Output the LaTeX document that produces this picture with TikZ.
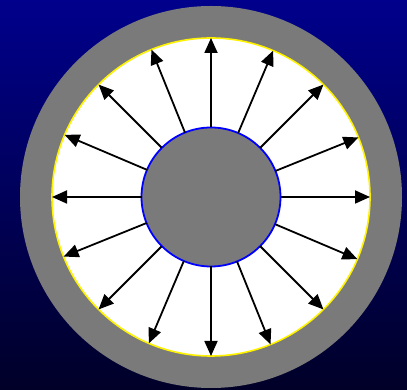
\documentclass[tikz,border=0pt]{standalone}
\usepackage{xcolor}
\usetikzlibrary{arrows.meta}
\usetikzlibrary{math}
\definecolor{bgtop}{RGB}{0, 0, 140}
\definecolor{bgbottom}{RGB}{0, 0, 40}
\definecolor{wallgray}{RGB}{122, 122, 122}

\tikzset{
  ring/.style={circle, inner sep=0pt, outer sep=0pt},
  fieldline/.style={-{Triangle[length=15pt,width=13pt]}, line width=1.8pt, black}
}

\begin{document}
\begin{tikzpicture}[x=1pt,y=1pt]
\tikzmath{
\Ro=191; \Rg=159; \Ri=69.5;
}
\shade[top color=bgtop, bottom color=bgbottom] (0,0) rectangle (407,390);
\useasboundingbox (0,0) rectangle (407,390);

\coordinate (C) at (211,193);

\node[ring, fill=wallgray, minimum size=2*\Ro] (shell) at (C) {};
\node[ring, fill=white, draw=yellow, line width=1.6pt, minimum size=2*\Rg] (gap) at (C) {};
\node[ring, fill=wallgray, draw=blue, line width=1.8pt, minimum size=2*\Ri] (core) at (C) {};

\foreach \a in {0,22.5,...,337.5}{
  \draw[fieldline] (core.\a) -- (gap.\a);
}
\end{tikzpicture}
\end{document}
